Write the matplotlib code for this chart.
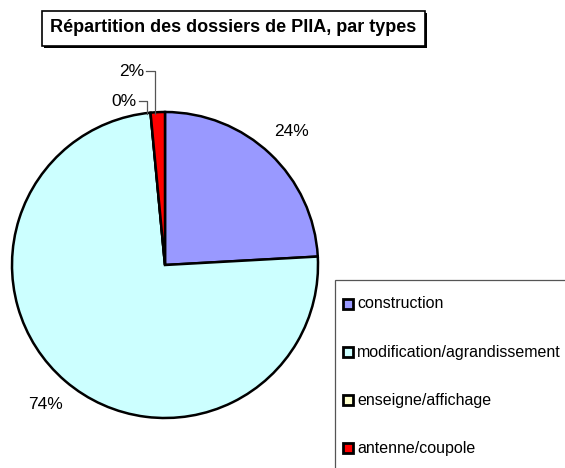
import numpy as np
import matplotlib
matplotlib.use("Agg")
import matplotlib.pyplot as plt
from matplotlib.patches import Rectangle

plt.rcParams['font.family'] = ['Liberation Sans', 'DejaVu Sans']

title = "Répartition des dossiers de PIIA, par types"
categories = ["construction", "modification/agrandissement", "enseigne/affichage", "antenne/coupole"]
values = [24, 74, 0, 1.5]
colors = ["#9999FF", "#CCFFFF", "#FFFFCC", "#FF0000"]

W, H = 565, 468
fig = plt.figure(figsize=(W / 100, H / 100), dpi=100)
ax = fig.add_axes([0, 0, 1, 1])

cx, cy, R = 165, H - 265, 153
wedges, _ = ax.pie(values, colors=colors, startangle=90, counterclock=False,
                   center=(cx, cy), radius=R,
                   wedgeprops=dict(edgecolor="black", linewidth=1.8))
ax.set_xlim(0, W)
ax.set_ylim(0, H)
ax.set_aspect("equal")
ax.axis("off")

total = sum(values)
pct = [f"{round(v / total * 100):.0f}%" for v in values]

# big slices: label at ~1.2 radius along mid angle
for i in (0, 1):
    w = wedges[i]
    mid = np.deg2rad((w.theta1 + w.theta2) / 2)
    r = R * 1.2
    ax.text(cx + r * np.cos(mid), cy + r * np.sin(mid), pct[i],
            ha="center", va="center", fontsize=12.5)

# small slices with leader lines
small = [(2, 137, H - 101, 147), (3, 144, H - 71, 155)]
for i, tx, ty, lx in small:
    ax.text(tx, ty, pct[i], ha="right", va="center", fontsize=12.5)
    ax.plot([tx + 2, lx, lx], [ty, ty, cy + R * 0.99], color="#555555", lw=0.9)

# title box with shadow
ax.add_patch(Rectangle((44, H - 48), 383, 35, facecolor="black", edgecolor="none"))
ax.add_patch(Rectangle((42, H - 46), 383, 35, facecolor="white", edgecolor="black", lw=1.2))
ax.text(233, H - 28, title, ha="center", va="center", fontsize=13, fontweight="bold")

# legend box
ax.add_patch(Rectangle((335, -5), 240, H - 280 + 5, facecolor="white", edgecolor="#555555", lw=0.9))
ys = [304, 352, 400, 448]
for c, lab, y in zip(colors, categories, ys):
    ax.add_patch(Rectangle((343, H - y - 5), 10, 10, facecolor=c, edgecolor="black", lw=2.0))
    ax.text(357, H - y, lab, ha="left", va="center", fontsize=11.5)

fig.savefig("out.png", dpi=100)
